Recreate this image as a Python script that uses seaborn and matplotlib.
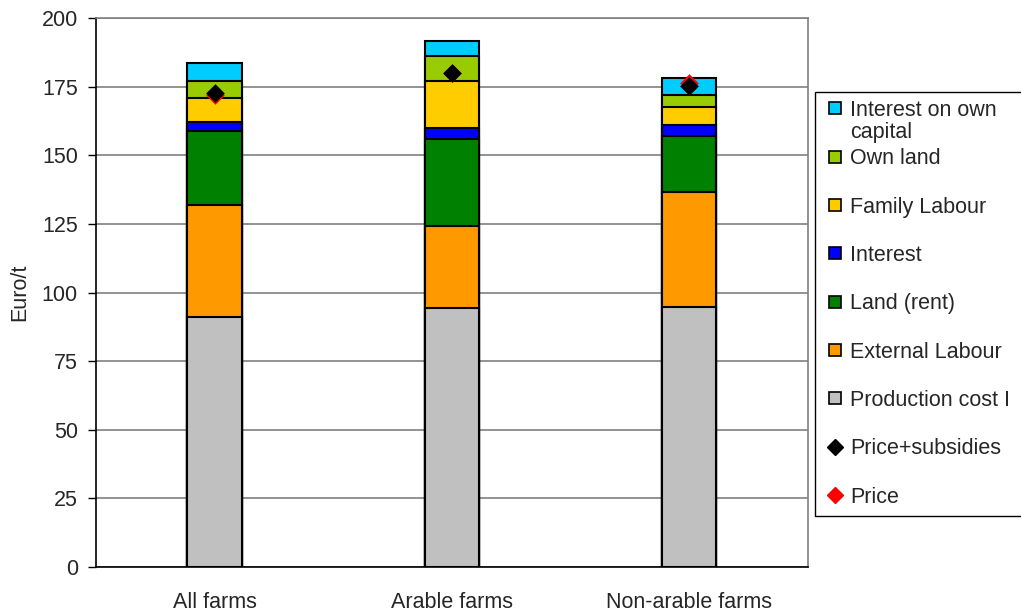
import numpy as np
import pandas as pd
import seaborn as sns
import matplotlib.pyplot as plt
from matplotlib.lines import Line2D

# ------------------------------
# Data (Euro/t)
# ------------------------------
categories = ["All farms", "Arable farms", "Non-arable farms"]

production_cost = [91.1, 94.3, 94.9]
external_labour = [40.9, 30.0, 41.8]
land_rent = [27.0, 31.7, 20.3]
interest = [3.0, 4.0, 4.0]
family_labour = [9.0, 17.0, 6.7]
own_land = [6.0, 9.0, 4.3]
interest_own_capital = [6.5, 5.7, 6.0]

price_subsidies = [172.6, 180.0, 175.1]
price = [171.9, 180.0, 176.3]

components = ["Production cost I", "External Labour", "Land (rent)", "Interest",
              "Family Labour", "Own land", "Interest on own capital"]
colors = ["#C0C0C0", "#FF9900", "#008000", "#0000FF",
          "#FFCC00", "#99CC00", "#00CCFF"]

# ------------------------------
# Cumulative table for stacking
# ------------------------------
df = pd.DataFrame({
    "Production cost I": production_cost,
    "External Labour": external_labour,
    "Land (rent)": land_rent,
    "Interest": interest,
    "Family Labour": family_labour,
    "Own land": own_land,
    "Interest on own capital": interest_own_capital,
}, index=categories)
cum = df[components].cumsum(axis=1)

sns.set_style("white")
plt.rcParams["font.family"] = ["Liberation Sans", "DejaVu Sans"]
FS = 15.5

fig = plt.figure(figsize=(10.21, 6.12), dpi=100)
ax = fig.add_axes([0.094, 0.0735, 0.697, 0.8971])

# draw from the top layer down so each lower layer covers the one above
for comp, col in reversed(list(zip(components, colors))):
    sns.barplot(x=categories, y=cum[comp].values, color=col, width=0.23,
                edgecolor="black", linewidth=1.5, saturation=1, ax=ax, zorder=2)

sns.stripplot(x=categories, y=price, marker="D", color="#FF0000", size=9.5,
              jitter=False, linewidth=0, ax=ax, zorder=4)
sns.stripplot(x=categories, y=price_subsidies, marker="D", color="black", size=9.5,
              jitter=False, linewidth=0, ax=ax, zorder=5)

# ------------------------------
# Axes styling
# ------------------------------
ax.set_ylim(0, 200)
ax.set_xlim(-0.5, 2.5)
ax.set_yticks(np.arange(0, 201, 25))
ax.yaxis.grid(True, color="#808080", linewidth=1.2, zorder=0)
ax.set_axisbelow(True)

ax.set_xticks([0, 1, 2])
ax.set_xticklabels(categories, fontsize=FS)
ax.set_xticks([-0.5, 0.5, 1.5, 2.5], minor=True)
ax.tick_params(axis="x", which="major", length=0, pad=18)
ax.tick_params(axis="x", which="minor", length=6, color="black", width=1, direction="out")
ax.tick_params(axis="y", length=6, color="black", width=1, direction="out",
               labelsize=FS, pad=7, left=True)

for side in ["left", "bottom"]:
    ax.spines[side].set_color("black")
    ax.spines[side].set_linewidth(1.2)
for side in ["top", "right"]:
    ax.spines[side].set_color("#808080")
    ax.spines[side].set_linewidth(1.2)

ax.set_xlabel("")
ax.set_ylabel("Euro/t", fontsize=FS, labelpad=8)

# ------------------------------
# Legend (runs past the right edge like the original)
# ------------------------------
handles = [Line2D([], [], marker="s", linestyle="none", markersize=8.5,
                  markerfacecolor=c, markeredgecolor="black", markeredgewidth=1.2)
           for c in reversed(colors)]
labels = ["Interest on own"] + list(reversed(components))[1:]
handles += [Line2D([], [], marker="D", color="black", linestyle="none", markersize=8),
            Line2D([], [], marker="D", color="#FF0000", linestyle="none", markersize=8)]
labels += ["Price+subsidies", "Price"]

leg = fig.legend(handles, labels, loc="upper left", bbox_to_anchor=(0.798, 0.0, 0.23, 0.85),
                 mode="expand", fontsize=FS, frameon=True, fancybox=False,
                 edgecolor="black", framealpha=1, labelspacing=1.27, handlelength=1.15,
                 handletextpad=0.12, borderpad=0.38, borderaxespad=0)
leg.get_frame().set_linewidth(1.0)

# second line of the first legend entry, wrapped like the original
fig.canvas.draw()
bb = leg.texts[0].get_window_extent().transformed(fig.transFigure.inverted())
fig.text(bb.x0, bb.y0 - 0.001, "capital", fontsize=FS, ha="left", va="top",
         zorder=10)

plt.savefig("out.png", dpi=100)
